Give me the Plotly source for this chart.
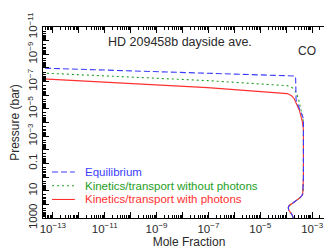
import plotly.graph_objects as go

# ---------------- data ----------------
# mole fraction of CO (x) versus pressure in bar (y)
eq_x = [1e-14, 9.3e-8, 2.2e-4, 2.3e-4, 2.4e-4, 4.4e-4, 4.6e-4,
        4.6e-4, 4.55e-4, 4.3e-4, 3.6e-4, 2.6e-4, 1.8e-4, 1.3e-4, 1.2e-4, 1.25e-4, 1.45e-4, 1.7e-4, 1.85e-4]
eq_p = [9.5e-9, 2.35e-8, 3.9e-8, 6e-8, 2.4e-6, 4e-5, 1e-4,
        1, 10, 18, 30, 50, 80, 120, 180, 260, 400, 600, 1000]

kin_x = [1e-14, 9.3e-8, 1.1e-4, 1.7e-4, 2.2e-4, 2.95e-4, 3.5e-4, 4.4e-4, 4.6e-4,
         4.6e-4, 4.55e-4, 4.3e-4, 3.6e-4, 2.6e-4, 1.8e-4, 1.3e-4, 1.2e-4, 1.25e-4, 1.45e-4, 1.7e-4, 1.85e-4]
kin_p = [2.1e-8, 8.5e-8, 2.0e-7, 2.8e-7, 4.7e-7, 1.7e-6, 7.8e-6, 4.8e-5, 1.5e-4,
         1, 10, 18, 30, 50, 80, 120, 180, 260, 400, 600, 1000]

pho_x = [1e-14, 9.3e-8, 1.1e-4, 1.6e-4, 2.0e-4, 3.2e-4, 4.2e-4, 4.6e-4,
         4.6e-4, 4.55e-4, 4.3e-4, 3.6e-4, 2.6e-4, 1.8e-4, 1.3e-4, 1.2e-4, 1.25e-4, 1.45e-4, 1.7e-4, 1.85e-4]
pho_p = [5.5e-8, 2.8e-7, 7.6e-7, 1.1e-6, 1.74e-6, 1.26e-5, 9e-5, 3.5e-4,
         1, 10, 18, 30, 50, 80, 120, 180, 260, 400, 600, 1000]

series_names = ["Equilibrium",
                "Kinetics/transport without photons",
                "Kinetics/transport with photons"]

x_tick_exps = list(range(-13, -2))
x_label_exps = [-13, -11, -9, -7, -5, -3]
y_tick_exps = list(range(-11, 4))
y_labels = {3: "1000", 1: "10", -1: "0.1", -3: "10<sup>−3</sup>", -5: "10<sup>−5</sup>",
            -7: "10<sup>−7</sup>", -9: "10<sup>−9</sup>", -11: "10<sup>−11</sup>"}

title_text = "HD 209458b dayside ave."
species = "CO"

# ---------------- styles ----------------
colors = ["#3c3cff", "#1e9e1e", "#ff3030"]
dashes = ["6px,3px", "2px,3px", "solid"]
FONT = "Liberation Sans, Arial, sans-serif"
TXT = "#2a2a2a"

fig = go.Figure()
data = [(eq_x, eq_p), (kin_x, kin_p), (pho_x, pho_p)]
# draw green, red, then blue on top
for i in [1, 2, 0]:
    xs, ps = data[i]
    fig.add_trace(go.Scatter(x=xs, y=ps, mode="lines", name=series_names[i],
                             line=dict(color=colors[i], width=1.1, dash=dashes[i]),
                             showlegend=False))

x_minor = [m * 10.0 ** k for k in range(-14, -1) for m in range(2, 10)]
y_minor = [m * 10.0 ** k for k in range(-12, 4) for m in range(2, 10)]

fig.update_xaxes(
    type="log", range=[-13.38, -2.12],
    tickmode="array",
    tickvals=[10.0 ** e for e in x_tick_exps],
    ticktext=[("10<sup>−%d</sup>" % (-e)) if e in x_label_exps else "" for e in x_tick_exps],
    ticks="inside", ticklen=6, tickwidth=1, tickcolor="black",
    minor=dict(tickvals=x_minor, ticks="inside", ticklen=3, tickwidth=1, tickcolor="black"),
    showline=True, linecolor="black", linewidth=1, mirror="ticks",
    showgrid=False, zeroline=False, ticklabeloverflow="allow",
    tickfont=dict(family=FONT, size=11.5, color=TXT),
    title=dict(text="Mole Fraction", font=dict(family=FONT, size=12, color=TXT), standoff=3),
)
fig.update_yaxes(
    type="log", range=[3, -11],
    tickmode="array",
    tickvals=[10.0 ** e for e in y_tick_exps],
    ticktext=[y_labels.get(e, "") for e in y_tick_exps],
    tickangle=-90,
    ticks="inside", ticklen=6, tickwidth=1, tickcolor="black",
    minor=dict(tickvals=y_minor, ticks="inside", ticklen=3, tickwidth=1, tickcolor="black"),
    showline=True, linecolor="black", linewidth=1, mirror="ticks",
    showgrid=False, zeroline=False, ticklabeloverflow="allow",
    tickfont=dict(family=FONT, size=11.5, color=TXT),
    title=dict(text="Pressure (bar)", font=dict(family=FONT, size=12, color=TXT), standoff=3),
)

annotations = [
    dict(text=title_text, xref="paper", yref="paper", x=0.47, y=0.92,
         xanchor="center", yanchor="middle", showarrow=False,
         font=dict(family=FONT, size=12.5, color=TXT)),
    dict(text=species, xref="paper", yref="paper", x=0.905, y=0.873,
         xanchor="center", yanchor="middle", showarrow=False,
         font=dict(family=FONT, size=12, color=TXT)),
]
shapes = []
legend_y = [0.241, 0.169, 0.097]
for i in range(3):
    shapes.append(dict(type="line", xref="paper", yref="paper",
                       x0=0.031, x1=0.109, y0=legend_y[i], y1=legend_y[i],
                       line=dict(color=colors[i], width=1.1, dash=dashes[i])))
    annotations.append(dict(text=series_names[i], xref="paper", yref="paper",
                            x=0.137, y=legend_y[i], xanchor="left", yanchor="middle",
                            showarrow=False,
                            font=dict(family=FONT, size=11.5, color=colors[i])))

fig.update_layout(
    width=332, height=250,
    margin=dict(l=35, r=4, t=15, b=40),
    paper_bgcolor="white", plot_bgcolor="white",
    showlegend=False,
    annotations=annotations, shapes=shapes,
)

fig.write_html("out.html")
